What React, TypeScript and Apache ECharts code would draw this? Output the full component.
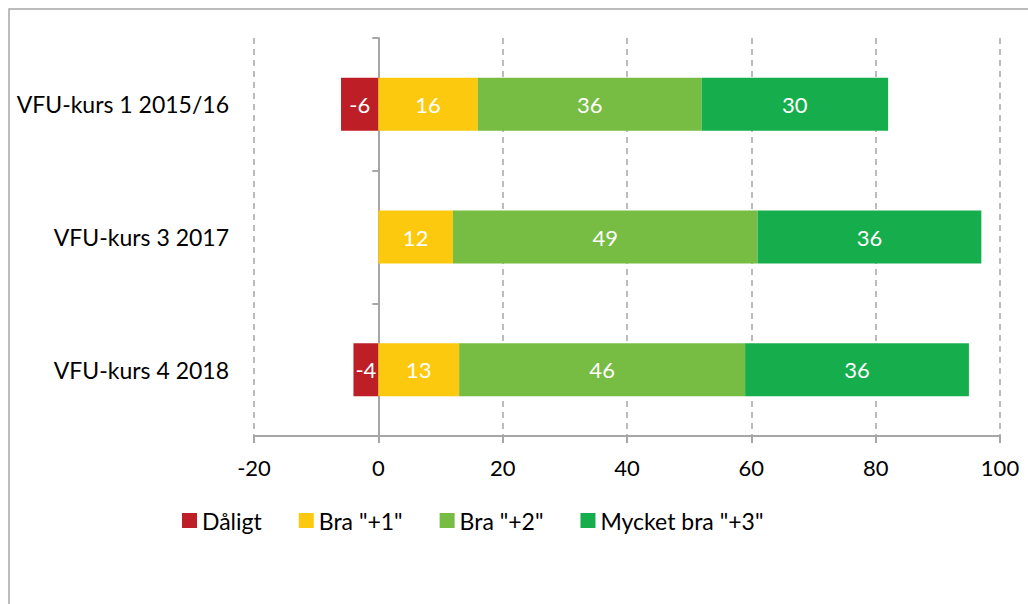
import React, { useEffect, useRef } from "react";
import * as echarts from "echarts";

const categories = ["VFU-kurs 1 2015/16", "VFU-kurs 3 2017", "VFU-kurs 4 2018"];
const seriesNames = ["Dåligt", 'Bra "+1"', 'Bra "+2"', 'Mycket bra "+3"'];
const daligt: (number | null)[] = [-6, null, -4];
const bra1 = [16, 12, 13];
const bra2 = [36, 49, 46];
const mycketBra = [30, 36, 36];
const xMin = -20;
const xMax = 100;
const xInterval = 20;

const colors = ["#BE1E26", "#FDC90E", "#77BC43", "#16AE4C"];
const FONT = "Lato";

export default function App() {
  const ref = useRef<HTMLDivElement>(null);
  useEffect(() => {
    if (!ref.current) return;
    const chart = echarts.init(ref.current, null, { renderer: "svg" });
    const values = [daligt, bra1, bra2, mycketBra];
    chart.setOption({
      animation: false,
      textStyle: { fontFamily: FONT },
      graphic: [
        {
          type: "rect",
          shape: { x: 9, y: 9, width: 1200, height: 800 },
          style: { fill: "none", stroke: "#A6A6A6", lineWidth: 1.5 },
          silent: true,
        },
      ],
      grid: { left: 254, right: 28, top: 38, bottom: 168, containLabel: false },
      legend: {
        left: 182,
        top: 509,
        padding: 0,
        itemWidth: 15,
        itemHeight: 15,
        itemGap: 37,
        icon: "rect",
        data: seriesNames,
        textStyle: { fontFamily: FONT, fontSize: 23, color: "#000" },
      },
      xAxis: {
        type: "value",
        min: xMin,
        max: xMax,
        interval: xInterval,
        axisLine: { show: true, lineStyle: { color: "#A6A6A6", width: 2 } },
        axisTick: { show: true, length: 7, lineStyle: { color: "#A6A6A6", width: 2 } },
        axisLabel: { fontFamily: FONT, fontSize: 22, color: "#000", margin: 20 },
        splitLine: { show: true, lineStyle: { color: "#A6A6A6", type: [6, 5], width: 1.5 } },
      },
      yAxis: [
        {
          type: "category",
          data: categories,
          inverse: true,
          axisLine: { show: false, onZero: false },
          axisTick: { show: false },
          axisLabel: { fontFamily: FONT, fontSize: 23, color: "#000", margin: 25 },
        },
        {
          type: "category",
          data: categories,
          inverse: true,
          position: "left",
          axisLine: { show: true, onZero: true, lineStyle: { color: "#A6A6A6", width: 2 } },
          axisTick: { show: true, length: 6, lineStyle: { color: "#A6A6A6", width: 2 } },
          axisLabel: { show: false },
        },
      ],
      series: seriesNames.map((name, i) => ({
        name,
        type: "bar",
        stack: "total",
        barWidth: 53,
        yAxisIndex: 0,
        itemStyle: { color: colors[i] },
        label: {
          show: true,
          position: "inside",
          color: "#fff",
          fontFamily: FONT,
          fontSize: 22,
        },
        data: values[i],
      })),
    });
    return () => chart.dispose();
  }, []);
  return (
    <div
      ref={ref}
      style={{ position: "absolute", left: 0, top: 0, width: 1028, height: 604, background: "#fff" }}
    />
  );
}
